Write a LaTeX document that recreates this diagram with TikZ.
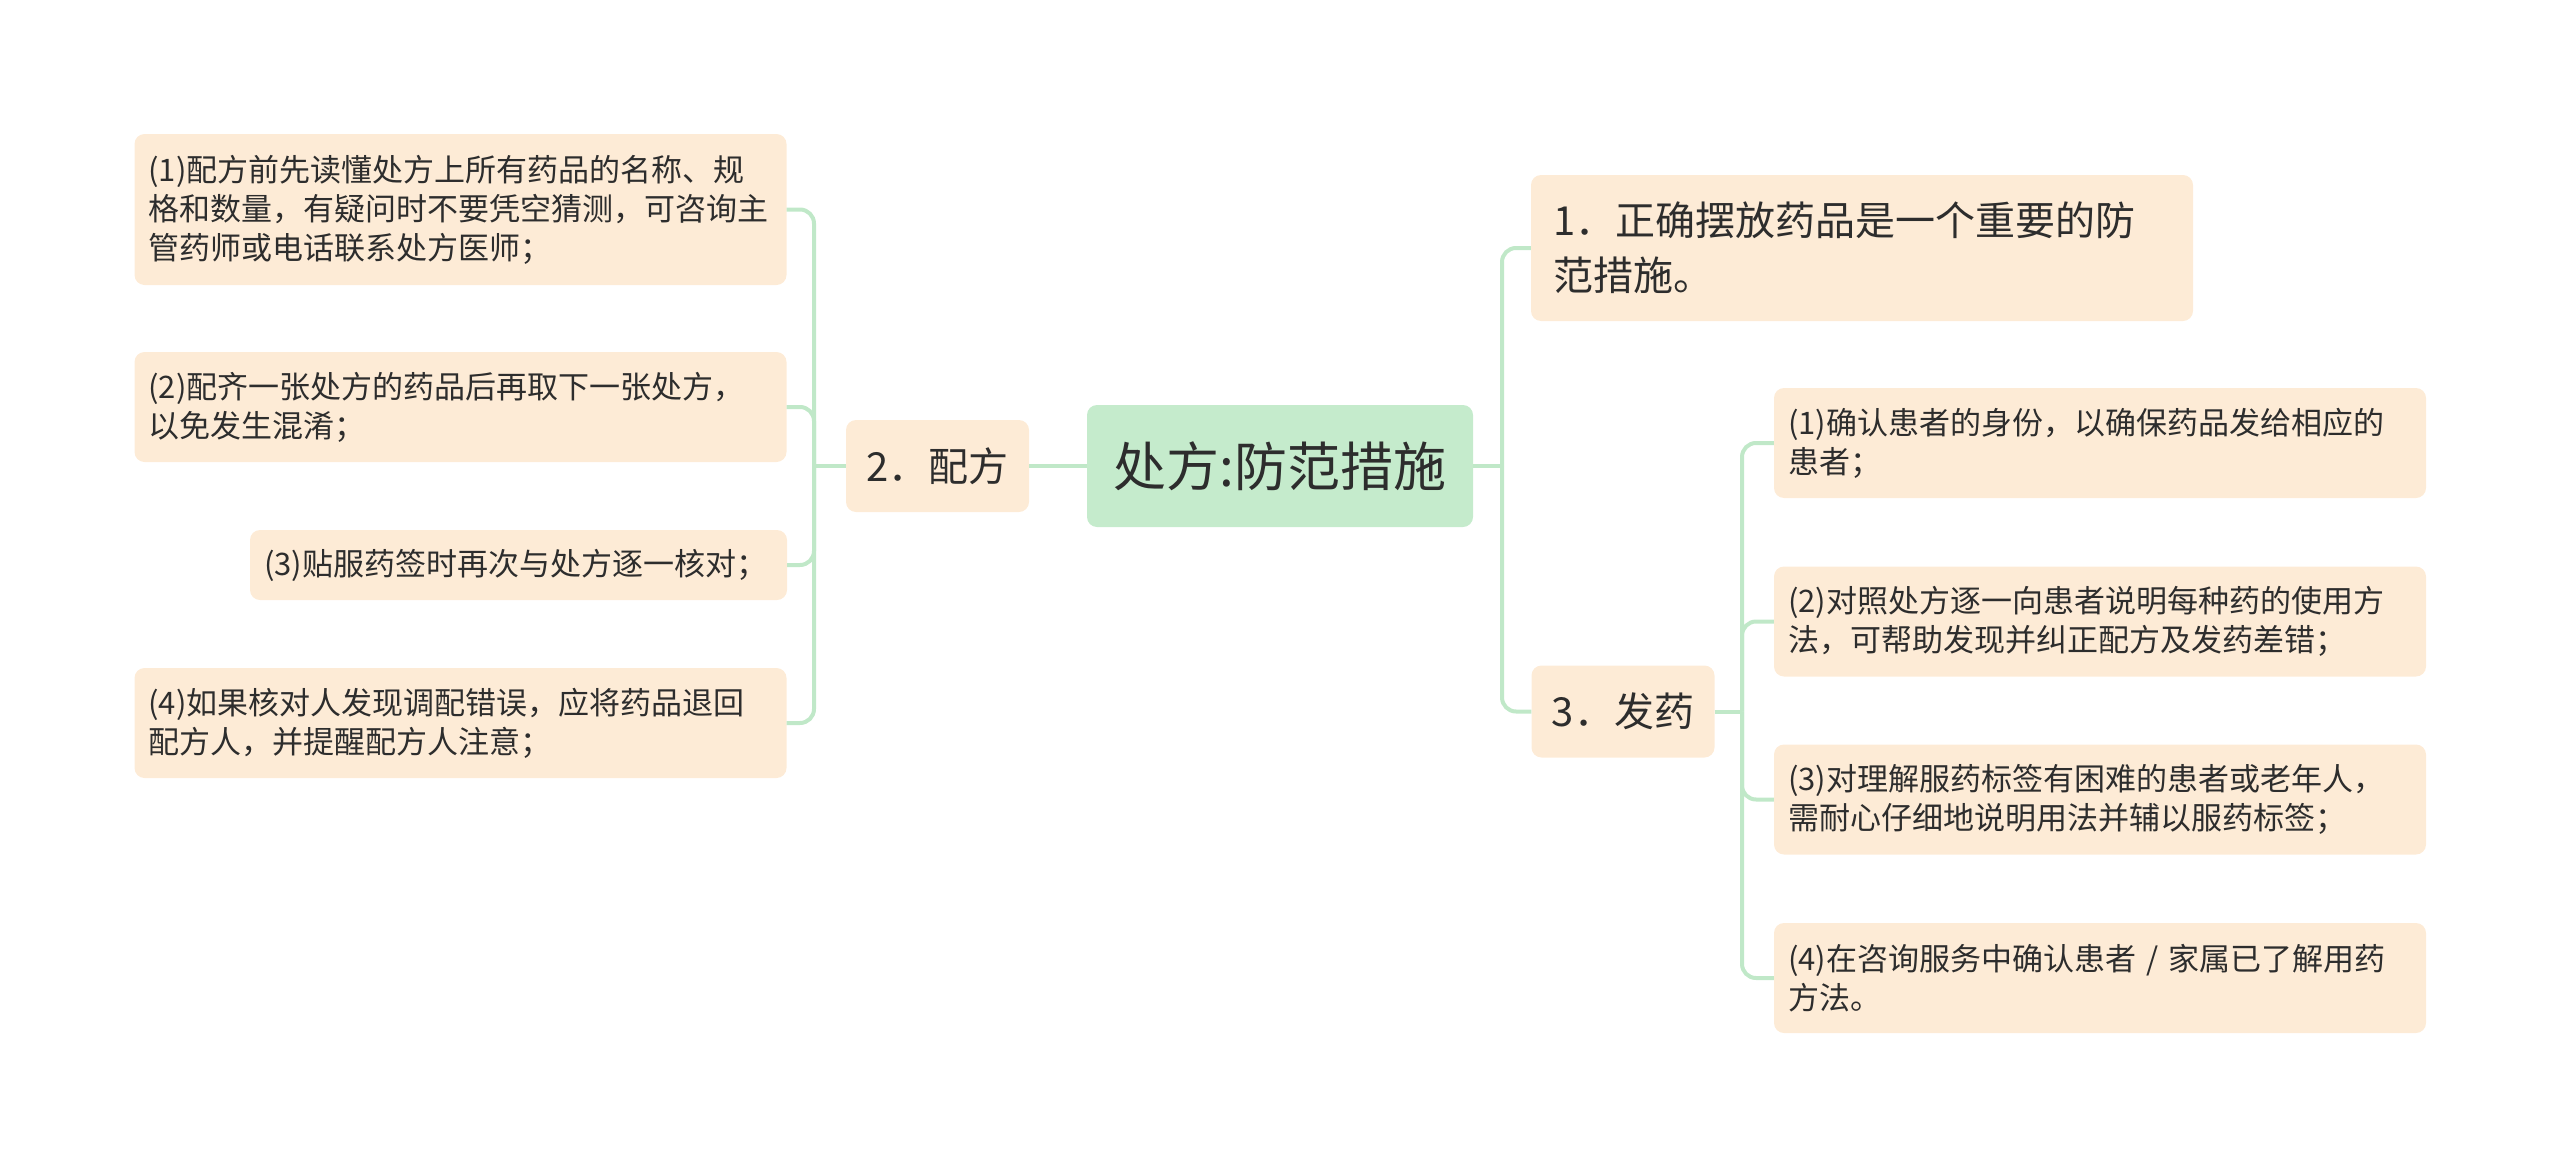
\documentclass[tikz,border=0pt]{standalone}
\usepackage{fontspec}
\newfontfamily\cjk{Noto Sans CJK SC}
\usepackage{tikz}
\definecolor{leafpeach}{RGB}{253,235,214}
\definecolor{rootgreen}{RGB}{197,235,204}
\definecolor{linkgreen}{RGB}{192,232,200}
\definecolor{inkgray}{RGB}{45,45,45}

\begin{document}
\begin{tikzpicture}[
  x=1pt, y=-1pt,
  root/.style={
    rounded corners=10pt, fill=rootgreen, text=inkgray,
    minimum width=386pt, minimum height=122pt, inner sep=0pt,
    font=\cjk\fontsize{53}{60}\selectfont
  },
  branch/.style={
    rounded corners=10pt, fill=leafpeach, text=inkgray,
    minimum width=183pt, minimum height=92pt, inner sep=0pt,
    font=\cjk\fontsize{40}{46}\selectfont
  },
  leaf/.style={
    rounded corners=10pt, fill=leafpeach, text=inkgray,
    inner xsep=14pt, inner ysep=0pt, align=left,
    text width=624pt, minimum height=110pt,
    font=\cjk\fontsize{31}{39}\selectfont
  },
  link/.style={draw=linkgreen, line width=4pt, rounded corners=14pt},
]
\useasboundingbox (0,0) rectangle (2560,1167);

\node[root]   (root) at (1280,466)   {处方:防范措施};
\node[branch] (pf)   at (937.5,466)  {2．配方};
\node[leaf, inner xsep=22pt, text width=618pt, minimum height=146pt,
      font=\cjk\fontsize{40}{55}\selectfont]
              (zq)   at (1862,248)   {1．正确摆放药品是一个重要的防\\范措施。};
\node[branch] (fy)   at (1623,711.5) {3．发药};

\node[leaf, minimum height=151pt] (pf1) at (460.5,209.5)
  {(1)配方前先读懂处方上所有药品的名称、规\\格和数量，有疑问时不要凭空猜测，可咨询主\\管药师或电话联系处方医师；};
\node[leaf] (pf2) at (460.5,407)
  {(2)配齐一张处方的药品后再取下一张处方，\\以免发生混淆；};
\node[leaf, text width=509pt, minimum height=70pt] (pf3) at (518.5,565)
  {(3)贴服药签时再次与处方逐一核对；};
\node[leaf] (pf4) at (460.5,723)
  {(4)如果核对人发现调配错误，应将药品退回\\配方人，并提醒配方人注意；};

\node[leaf] (fy1) at (2100,443)
  {(1)确认患者的身份，以确保药品发给相应的\\患者；};
\node[leaf] (fy2) at (2100,621.5)
  {(2)对照处方逐一向患者说明每种药的使用方\\法，可帮助发现并纠正配方及发药差错；};
\node[leaf] (fy3) at (2100,799.5)
  {(3)对理解服药标签有困难的患者或老年人，\\需耐心仔细地说明用法并辅以服药标签；};
\node[leaf] (fy4) at (2100,978)
  {(4)在咨询服务中确认患者 / 家属已了解用药\\方法。};

\coordinate (jl) at (814,466);
\coordinate (jr) at (1502,466);
\coordinate (jf) at (1742,711.5);

\draw[link] (root.west) -- (pf.east);
\draw[link] (pf.west) -- (jl);
\draw[link] (jl) |- (pf1.east);
\draw[link] (jl) |- (pf2.east);
\draw[link] (jl) |- (pf3.east);
\draw[link] (jl) |- (pf4.east);

\draw[link] (root.east) -- (jr);
\draw[link] (jr) |- (zq.west);
\draw[link] (jr) |- (fy.west);

\draw[link] (fy.east) -- (jf);
\draw[link] (jf) |- (fy1.west);
\draw[link] (jf) |- (fy2.west);
\draw[link] (jf) |- (fy3.west);
\draw[link] (jf) |- (fy4.west);

\end{tikzpicture}
\end{document}
